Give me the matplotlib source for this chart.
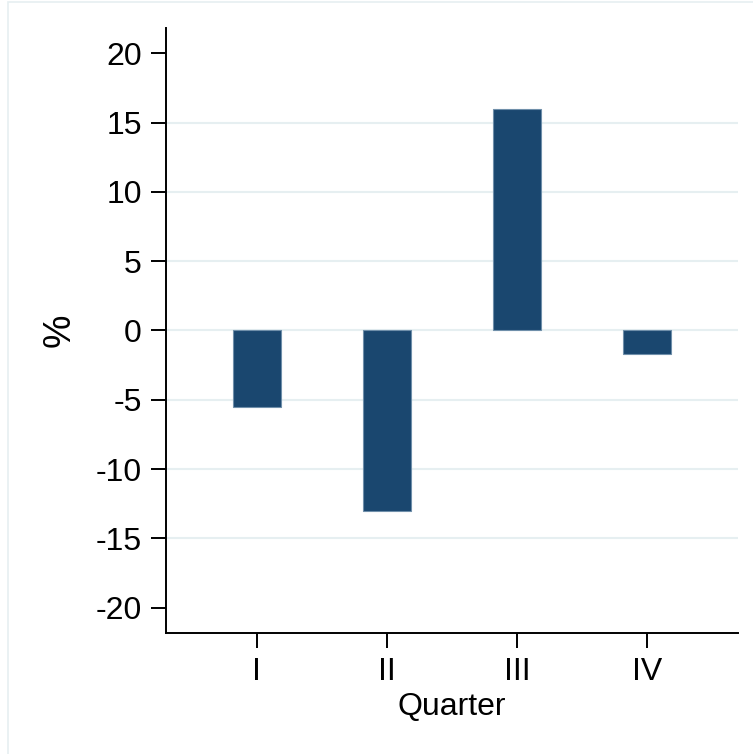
import matplotlib
matplotlib.use("Agg")
import matplotlib.pyplot as plt
from matplotlib.patches import Rectangle

# quarterly change, percent
quarters = ["I", "II", "III", "IV"]
change = [-5.5, -13.0, 16.0, -1.7]
yticks = [-20, -15, -10, -5, 0, 5, 10, 15, 20]

navy = "#1A476F"
grid = "#E6EFF1"

plt.rcParams["font.family"] = ["Liberation Sans", "DejaVu Sans"]

fig = plt.figure(figsize=(7.53, 7.54), dpi=100)
fig.patches.append(Rectangle((8 / 753, -0.01), 1.0, 1 - 2 / 754 + 0.01,
                             transform=fig.transFigure, fill=False,
                             edgecolor=grid, linewidth=1.2))
ax = fig.add_axes([0.220, 0.161, 0.760, 0.8015])

pos = list(range(1, len(quarters) + 1))
ax.bar(pos, change, width=0.368, color=navy, edgecolor="#6F8FAA",
       linewidth=0.8, zorder=3)

ax.set_xlim(0.3, 4.7)
ax.set_ylim(-21.8, 21.8)
ax.set_xticks(pos)
ax.set_xticklabels(quarters)
ax.set_yticks(yticks)
ax.set_yticklabels([str(v) for v in yticks])

for v in yticks[1:-1]:
    ax.axhline(v, color=grid, linewidth=1.5, zorder=1)

for s in ["top", "right"]:
    ax.spines[s].set_visible(False)
for s in ["left", "bottom"]:
    ax.spines[s].set_linewidth(1.4)
    ax.spines[s].set_color("black")

ax.tick_params(axis="both", length=10.8, width=1.4, labelsize=23, pad=6.5)
ax.set_xlabel("Quarter", fontsize=23, labelpad=4)
ax.set_ylabel("%", fontsize=27, labelpad=13)

fig.savefig("out.png", dpi=100)
